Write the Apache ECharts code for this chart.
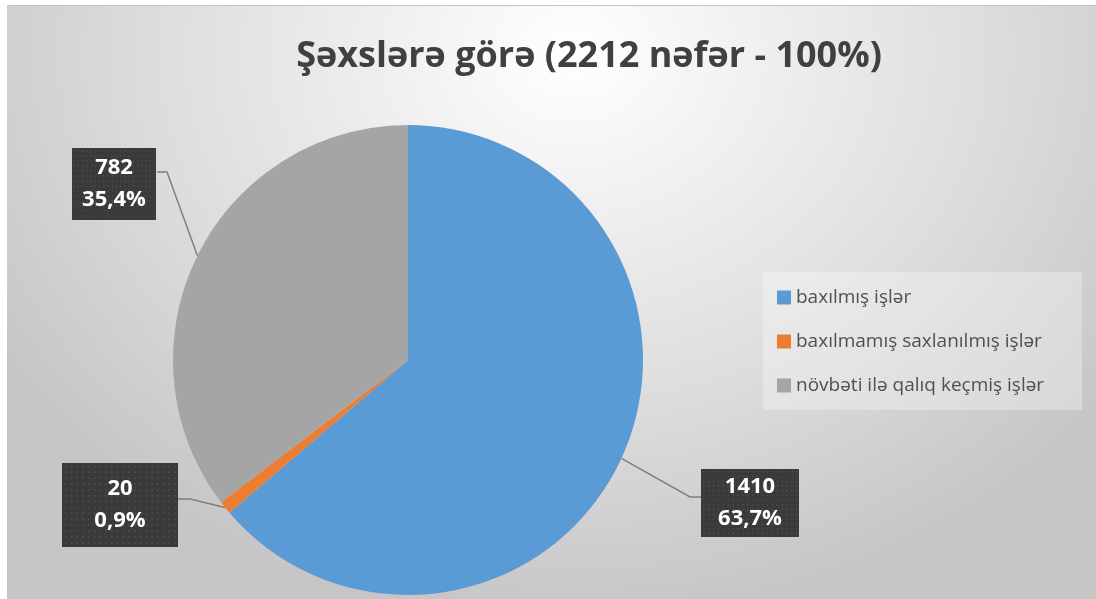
<!DOCTYPE html>
<html>
<head>
<meta charset="utf-8">
<script src="https://cdn.jsdelivr.net/npm/echarts@6/dist/echarts.min.js"></script>
<style>
  html, body { margin: 0; padding: 0; background: #ffffff; }
  #bg {
    position: absolute; left: 7px; top: 5px; width: 1089px; height: 594px;
    border-top: 1px solid #c4c4c4;
    background: radial-gradient(ellipse 62% 95% at 52% 8%, #ffffff 0%, #f1f1f1 25%, #dedede 60%, #c6c6c6 100%);
  }
  #main { position: absolute; left: 0; top: 0; width: 1096px; height: 599px; }
</style>
</head>
<body>
<div id="bg"></div>
<div id="main"></div>
<script>
// data
const titleText = 'Şəxslərə görə (2212 nəfər - 100%)';
const categories = ['baxılmış işlər', 'baxılmamış saxlanılmış işlər', 'növbəti ilə qalıq keçmiş işlər'];
const values = [1410, 20, 782];
const colors = ['#5b9bd5', '#ed7d31', '#a5a5a5'];

// where the callout boxes sit and how their leaders bend
const labelSpots = [[750, 503], [120, 505], [114, 184]];
const leaderBends = [[690, 497, 702], [190, 499, 178], [167, 172, 157]];
const boxPadding = [[2, 17], [10, 32], [4, 10]];

const total = values.reduce((a, b) => a + b, 0);

// dark dotted fill for the callouts
function dotted(w, h) {
  const c = document.createElement('canvas');
  c.width = w; c.height = h;
  const ctx = c.getContext('2d');
  ctx.fillStyle = '#3a3a3a';
  ctx.fillRect(0, 0, w, h);
  ctx.fillStyle = '#4d4d4d';
  for (let y = 3; y < h; y += 7) {
    for (let x = 3; x < w; x += 7) {
      ctx.fillRect(x, y, 2, 2);
    }
  }
  return c;
}

const pieData = categories.map((name, i) => ({
  name: name,
  value: values[i],
  itemStyle: { color: colors[i] },
  label: {
    padding: boxPadding[i],
    backgroundColor: { image: dotted(140, 100) }
  }
}));

const chart = echarts.init(document.getElementById('main'));
chart.setOption({
  backgroundColor: 'transparent',
  animation: false,
  title: {
    text: titleText,
    left: 584,
    top: 34,
    textAlign: 'center',
    textStyle: {
      fontFamily: 'Open Sans',
      fontSize: 36,
      fontWeight: 'bold',
      color: '#404040'
    }
  },
  legend: {
    orient: 'vertical',
    left: 763,
    top: 272,
    padding: [16, 38, 15, 14],
    itemGap: 25,
    itemWidth: 14,
    itemHeight: 14,
    icon: 'rect',
    backgroundColor: 'rgba(255,255,255,0.3)',
    data: categories,
    textStyle: {
      fontFamily: 'Open Sans',
      fontSize: 19,
      color: '#505050'
    }
  },
  series: [{
    type: 'pie',
    center: [408, 360],
    radius: 235,
    startAngle: 90,
    clockwise: true,
    avoidLabelOverlap: false,
    label: {
      show: true,
      position: 'outside',
      fontFamily: 'Open Sans',
      fontSize: 22,
      fontWeight: 'bold',
      color: '#ffffff',
      lineHeight: 32,
      align: 'center',
      formatter: (p) => p.value + '\n' + (p.value / total * 100).toFixed(1).replace('.', ',') + '%'
    },
    labelLine: {
      show: true,
      lineStyle: { color: '#7f7f7f', width: 1.5 }
    },
    labelLayout: (params) => {
      const i = params.dataIndex;
      const pts = params.labelLinePoints;
      const out = {
        x: labelSpots[i][0],
        y: labelSpots[i][1],
        align: 'center',
        verticalAlign: 'middle'
      };
      if (pts && pts[0]) {
        const b = leaderBends[i];
        out.labelLinePoints = [pts[0], [b[0], b[1]], [b[2], b[1]]];
      }
      return out;
    },
    emphasis: { disabled: true },
    data: pieData
  }]
});
</script>
</body>
</html>
